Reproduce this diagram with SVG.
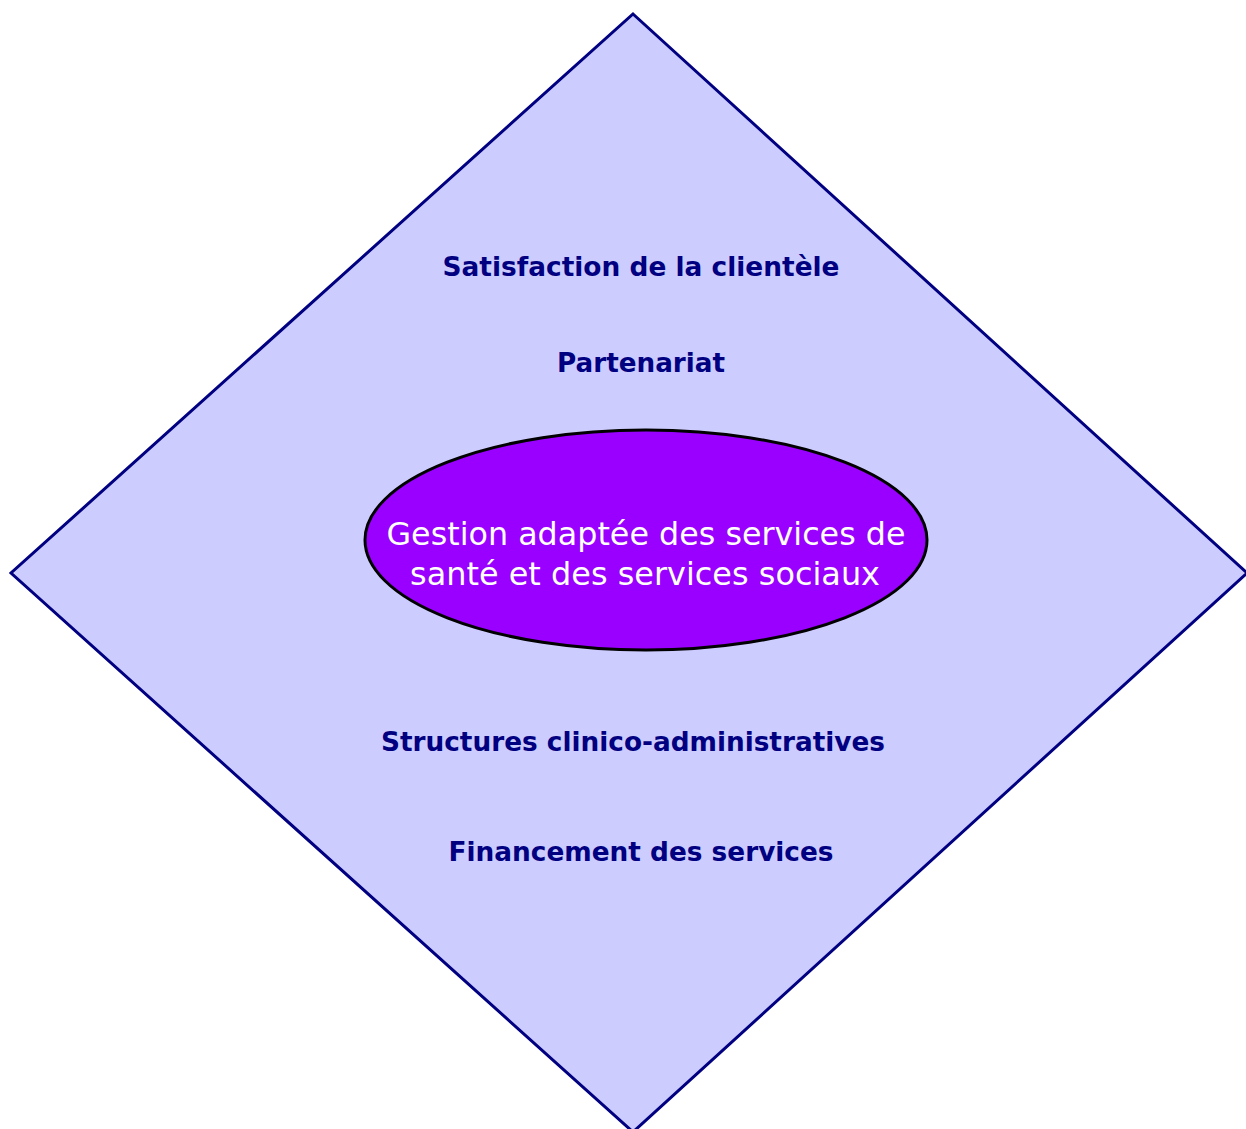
<svg xmlns="http://www.w3.org/2000/svg" width="1246" height="1129" viewBox="0 0 1246 1129">
  <style>
    .frame { fill: #CCCCFF; stroke: #000080; stroke-width: 3; stroke-linejoin: miter; }
    .core { fill: #9900FF; stroke: #000000; stroke-width: 3; }
    .label { font-family: "DejaVu Sans", "Liberation Sans", sans-serif; font-weight: bold; font-size: 27px; fill: #000080; text-anchor: middle; }
    .core-text { font-family: "DejaVu Sans", "Liberation Sans", sans-serif; font-size: 32px; fill: #FFFFFF; text-anchor: middle; }
  </style>
  <rect width="1246" height="1129" fill="#FFFFFF"/>

  <!-- outer diamond -->
  <g id="frame">
    <polygon class="frame" points="633,14 1247,573 633,1132 11,573"/>
  </g>

  <!-- surrounding factors -->
  <g id="satisfaction">
    <text class="label" x="641" y="276" textLength="397" lengthAdjust="spacingAndGlyphs">Satisfaction de la clientèle</text>
  </g>
  <g id="partenariat">
    <text class="label" x="641" y="372" textLength="168" lengthAdjust="spacingAndGlyphs">Partenariat</text>
  </g>
  <g id="structures">
    <text class="label" x="633" y="751" textLength="504" lengthAdjust="spacingAndGlyphs">Structures clinico-administratives</text>
  </g>
  <g id="financement">
    <text class="label" x="641" y="861" textLength="385" lengthAdjust="spacingAndGlyphs">Financement des services</text>
  </g>

  <!-- central ellipse -->
  <g id="gestion">
    <ellipse class="core" cx="646" cy="540" rx="281" ry="110"/>
    <text class="core-text" x="646" y="545" textLength="519" lengthAdjust="spacingAndGlyphs">Gestion adaptée des services de</text>
    <text class="core-text" x="645" y="585" textLength="470" lengthAdjust="spacingAndGlyphs">santé et des services sociaux</text>
  </g>

  <g id="connectors"></g>
</svg>
